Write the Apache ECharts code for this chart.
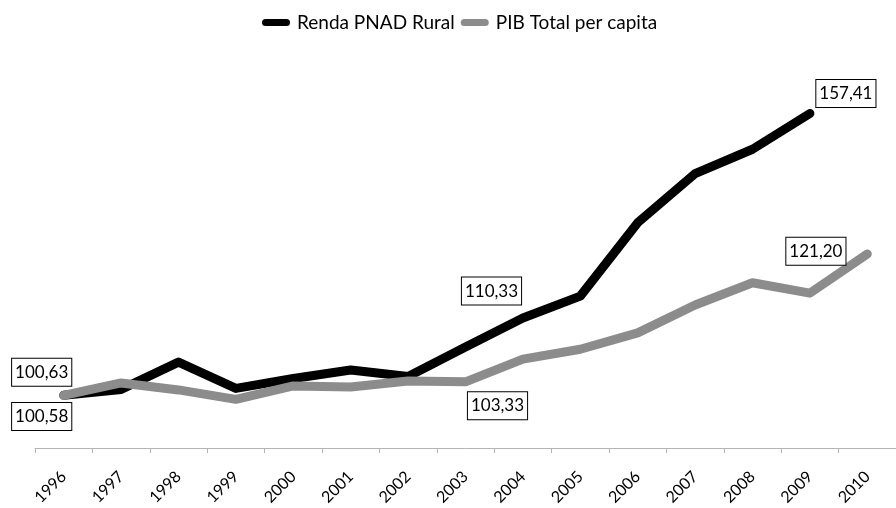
<!DOCTYPE html>
<html>
<head>
<meta charset="utf-8">
<script src="https://cdn.jsdelivr.net/npm/echarts@6/dist/echarts.min.js"></script>
<style>
  html, body { margin: 0; padding: 0; background: #fff; }
  #chart { width: 896px; height: 508px; }
</style>
</head>
<body>
<div id="chart"></div>
<script>
const years = ['1996', '1997', '1998', '1999', '2000', '2001', '2002', '2003',
  '2004', '2005', '2006', '2007', '2008', '2009', '2010']
const rendaRural = [100.63, 101.8, 107.3, 102.0, 104.0, 105.7, 104.4, 110.33,
  116.2, 120.6, 135.4, 145.3, 150.2, 157.41, null]
const pibPerCapita = [100.58, 103.1, 101.7, 99.8, 102.5, 102.3, 103.5, 103.33,
  107.9, 109.9, 113.2, 118.8, 123.3, 121.20, 129.1]

// which points carry a boxed label, and where the box sits
const rendaLabels = { 0: [-22, -23], 7: [26, -56], 13: [36, -20] }
const pibLabels = { 0: [-22, 21], 7: [32, 24], 13: [6, -42] }

const fmt = (v) => v.toFixed(2).replace('.', ',')

function withLabels(values, labels) {
  return values.map((v, i) => {
    if (!(i in labels) || v == null) return v
    return {
      value: v,
      label: {
        show: true,
        position: 'inside',
        offset: labels[i],
        formatter: (p) => fmt(p.value),
        color: '#000',
        fontFamily: 'Lato',
        fontSize: 17,
        backgroundColor: '#fff',
        borderColor: '#000',
        borderWidth: 1,
        padding: [6, 3, 4, 3]
      }
    }
  })
}

const legendIcon = 'path://M4,0 L28,0 A4,4 0 0 1 28,8 L4,8 A4,4 0 0 1 4,0 Z'

const chart = echarts.init(document.getElementById('chart'))
chart.setOption({
  animation: false,
  backgroundColor: '#fff',
  textStyle: { fontFamily: 'Lato' },
  legend: {
    top: 8,
    left: 257,
    itemGap: 6,
    itemWidth: 32,
    itemHeight: 7,
    icon: legendIcon,
    textStyle: { color: '#000', fontSize: 19, fontFamily: 'Lato' },
    data: ['Renda PNAD Rural', 'PIB Total per capita']
  },
  grid: { left: 35, width: 865, top: 51, bottom: 58, containLabel: false },
  xAxis: {
    type: 'category',
    data: years,
    boundaryGap: true,
    axisLine: { lineStyle: { color: '#b4b4b4', width: 1 } },
    axisTick: { show: true, length: 5, lineStyle: { color: '#b4b4b4' } },
    axisLabel: { rotate: 45, color: '#000', fontSize: 16, margin: 26, fontFamily: 'Lato' }
  },
  yAxis: {
    type: 'value',
    min: 90,
    max: 170,
    show: false,
    splitLine: { show: false }
  },
  series: [
    {
      name: 'Renda PNAD Rural',
      type: 'line',
      data: withLabels(rendaRural, rendaLabels),
      symbol: 'circle',
      symbolSize: 1,
      itemStyle: { color: '#000' },
      lineStyle: { color: '#000', width: 9, cap: 'round', join: 'round' },
      z: 2
    },
    {
      name: 'PIB Total per capita',
      type: 'line',
      data: withLabels(pibPerCapita, pibLabels),
      symbol: 'circle',
      symbolSize: 1,
      itemStyle: { color: '#8c8c8c' },
      lineStyle: { color: '#8c8c8c', width: 9, cap: 'round', join: 'round' },
      z: 3
    }
  ]
})
</script>
</body>
</html>
